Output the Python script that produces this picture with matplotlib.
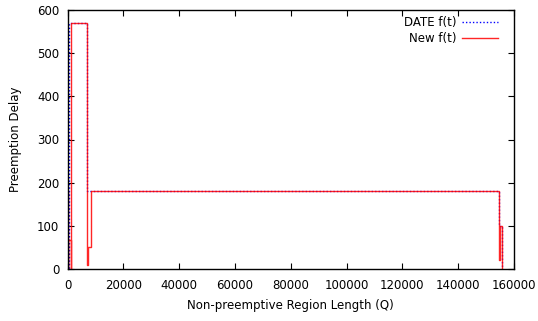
import matplotlib
matplotlib.use("Agg")
import matplotlib.pyplot as plt

# Step functions (x = region length Q, y = preemption delay)
date_x = [0, 0, 650, 650, 7100, 7100, 154700, 154700, 155700, 155700]
date_y = [180, 0, 0, 570, 570, 180, 180, 100, 100, 0]

new_x = [0, 0, 300, 300, 1150, 1150, 1250, 1250, 7100, 7100, 7250, 7250,
         8500, 8500, 154700, 154700, 154900, 154900, 155700, 155700]
new_y = [180, 0, 0, 67, 67, 0, 0, 570, 570, 10, 10, 50,
         50, 180, 180, 20, 20, 100, 100, 0]

x_ticks = [0, 20000, 40000, 60000, 80000, 100000, 120000, 140000, 160000]
y_ticks = [0, 100, 200, 300, 400, 500, 600]

plt.rcParams["font.family"] = ["DejaVu Sans"]
plt.rcParams["font.size"] = 8.5

fig = plt.figure(figsize=(5.38, 3.21), dpi=100)
ax = fig.add_axes([67.5 / 538, 52 / 321, 446.5 / 538, 259 / 321])

ax.plot(date_x, date_y, color="blue", lw=1, linestyle=(0, (1, 1.5)), label="DATE f(t)")
ax.plot(new_x, new_y, color="red", lw=1, alpha=0.85, label="New f(t)")

ax.set_xlim(0, 160000)
ax.set_ylim(0, 600)
ax.set_xticks(x_ticks)
ax.set_yticks(y_ticks)
ax.tick_params(direction="in", top=True, right=True, length=4.5, width=0.8)
ax.tick_params(axis="x", pad=7)
ax.tick_params(axis="y", pad=6)

for s in ax.spines.values():
    s.set_linewidth(1)

ax.set_xlabel("Non-preemptive Region Length (Q)", labelpad=5.5)
ax.set_ylabel("Preemption Delay", labelpad=11)

ax.legend(loc="upper right", bbox_to_anchor=(0.982, 1.008), frameon=False,
          markerfirst=False, handlelength=3.0, handletextpad=0.5,
          labelspacing=0.25, borderaxespad=0.3)

fig.savefig("out.png", dpi=100)
